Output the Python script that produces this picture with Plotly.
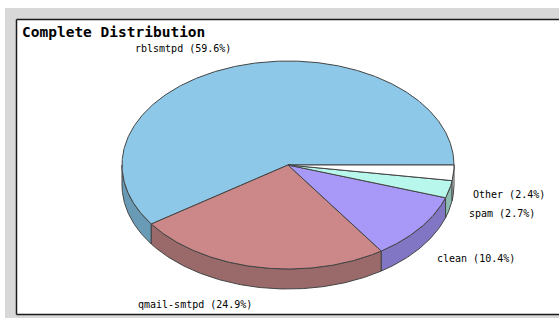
import numpy as np
import plotly.graph_objects as go

# ---- data ----
categories = ["rblsmtpd", "qmail-smtpd", "clean", "spam", "Other"]
percentages = [59.6, 24.9, 10.4, 2.7, 2.4]
title_text = "Complete Distribution"

# ---- styles ----
top_colors = ["#8DC8E8", "#CC8888", "#A899F8", "#B8F8EC", "#FFFFFF"]
side_colors = ["#6A9BB6", "#9A6A6A", "#8076C4", "#8CBCB0", "#E8E8E8"]
edge_color = "#444444"
W, H = 559, 318
CX, CY, RX, RY, DEPTH = 288, 165, 166, 104, 20
FONT = "DejaVu Sans Mono"

fig = go.Figure()

def ell(theta_deg, dy=0.0, scale_x=RX, scale_y=RY):
    t = np.radians(theta_deg)
    return CX + np.cos(t) * scale_x, CY - np.sin(t) * scale_y + dy

total = sum(percentages)
starts, ends = [], []
a = 0.0
for p in percentages:
    starts.append(a)
    a += p / total * 360.0
    ends.append(a)

# side walls (visible lower half: 180..360 deg)
for i in range(len(categories)):
    lo = max(starts[i], 180.0)
    hi = min(ends[i], 360.0)
    if hi <= lo:
        continue
    th = np.linspace(lo, hi, max(3, int((hi - lo) * 2)))
    xt, yt = ell(th)
    xb, yb = ell(th[::-1], dy=DEPTH)
    xs = np.concatenate([xt, xb, xt[:1]])
    ys = np.concatenate([yt, yb, yt[:1]])
    fig.add_trace(go.Scatter(x=xs, y=ys, mode="lines", fill="toself",
                             fillcolor=side_colors[i],
                             line=dict(color=edge_color, width=1),
                             hoverinfo="skip", showlegend=False))

# top faces
for i in range(len(categories)):
    th = np.linspace(starts[i], ends[i], max(3, int((ends[i] - starts[i]) * 2)))
    xa, ya = ell(th)
    xs = np.concatenate([[CX], xa, [CX]])
    ys = np.concatenate([[CY], ya, [CY]])
    fig.add_trace(go.Scatter(x=xs, y=ys, mode="lines", fill="toself",
                             fillcolor=top_colors[i],
                             line=dict(color=edge_color, width=1),
                             hoverinfo="skip", showlegend=False))

# labels
for i, name in enumerate(categories):
    mid = (starts[i] + ends[i]) / 2.0
    t = np.radians(mid)
    lx = CX + np.cos(t) * (RX + 18)
    ly = CY - np.sin(t) * (RY + 18) + (DEPTH if np.sin(t) < 0 else 0)
    fig.add_annotation(x=lx, y=ly, xref="x", yref="y",
                       text=f"{name} ({percentages[i]:.1f}%)",
                       showarrow=False,
                       xanchor="left" if np.cos(t) > 0 else "right",
                       yanchor="middle",
                       font=dict(family=FONT, size=10, color="#000000"))

fig.add_annotation(x=20, y=32, xref="x", yref="y", text=f"<b>{title_text}</b>",
                   showarrow=False, xanchor="left", yanchor="middle",
                   font=dict(family=FONT, size=14.5, color="#000000"))

def px(x):
    return x / W

def py(y):
    return 1 - y / H

border = dict(color="#1A1A1A", width=1.5)
shapes = [
    dict(type="rect", xref="paper", yref="paper", x0=px(5), y0=py(8), x1=1.1, y1=-0.1,
         fillcolor="#D8D8D8", line=dict(width=0), layer="below"),
    dict(type="rect", xref="paper", yref="paper", x0=px(16.5), y0=py(19.5), x1=1.1, y1=py(314.5),
         fillcolor="#FFFFFF", line=dict(width=0), layer="below"),
    dict(type="line", xref="paper", yref="paper", x0=px(16.5), y0=py(19.5), x1=1.1, y1=py(19.5),
         line=border, layer="below"),
    dict(type="line", xref="paper", yref="paper", x0=px(16.5), y0=py(19.5), x1=px(16.5), y1=py(314.5),
         line=border, layer="below"),
    dict(type="line", xref="paper", yref="paper", x0=px(16.5), y0=py(314.5), x1=1.1, y1=py(314.5),
         line=border, layer="below"),
]

fig.update_layout(
    width=W, height=H,
    margin=dict(l=0, r=0, t=0, b=0, pad=0),
    paper_bgcolor="#FFFFFF", plot_bgcolor="rgba(0,0,0,0)",
    xaxis=dict(range=[0, W], visible=False, fixedrange=True),
    yaxis=dict(range=[H, 0], visible=False, fixedrange=True),
    shapes=shapes,
    showlegend=False,
)

fig.write_html("out.html", config={"displayModeBar": False, "staticPlot": True},
               post_script=("document.documentElement.style.overflow='hidden';"
                            "document.body.style.margin='0';"
                            "document.body.style.overflow='hidden';"))
